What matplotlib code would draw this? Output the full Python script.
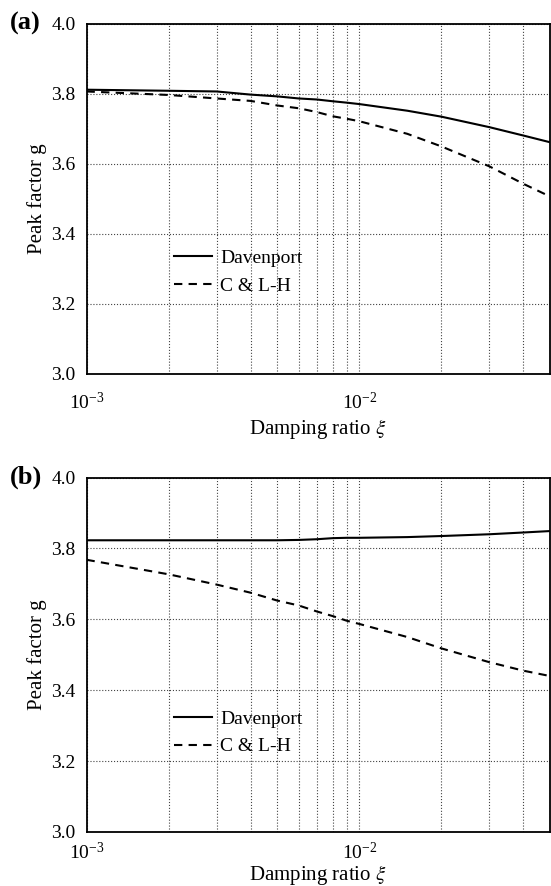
import matplotlib
matplotlib.use("Agg")
import matplotlib.pyplot as plt
from matplotlib.ticker import LogLocator, FixedLocator

plt.rcParams['font.family'] = ['Liberation Serif', 'DejaVu Serif']
plt.rcParams['mathtext.fontset'] = 'stix'

# damping ratio samples
xi = [0.001, 0.002, 0.003, 0.004, 0.005, 0.006, 0.007, 0.008, 0.009, 0.01,
      0.015, 0.02, 0.03, 0.04, 0.05]

# panel (a)
dav_a = [3.812, 3.809, 3.807, 3.798, 3.793, 3.787, 3.784, 3.779, 3.775, 3.771,
         3.752, 3.735, 3.705, 3.681, 3.662]
cl_a = [3.807, 3.797, 3.787, 3.780, 3.767, 3.759, 3.748, 3.736, 3.729, 3.722,
        3.686, 3.650, 3.593, 3.543, 3.507]

# panel (b)
dav_b = [3.823, 3.823, 3.823, 3.823, 3.823, 3.824, 3.826, 3.829, 3.830, 3.830,
         3.832, 3.835, 3.840, 3.845, 3.849]
cl_b = [3.768, 3.727, 3.698, 3.675, 3.653, 3.639, 3.622, 3.609, 3.596, 3.587,
        3.550, 3.518, 3.479, 3.455, 3.440]

yticks = [3.0, 3.2, 3.4, 3.6, 3.8, 4.0]

fig = plt.figure(figsize=(5.51, 8.86), dpi=100)
ax_a = fig.add_axes([0.157, 0.578, 0.841, 0.395])
ax_b = fig.add_axes([0.157, 0.061, 0.841, 0.400])

# axes, legend y anchor, x tick pad, x label pad
panels = [(ax_a, dav_a, cl_a, '(a)', 0.405, 13, 3),
          (ax_b, dav_b, cl_b, '(b)', 0.392, 7, 0)]
for ax, dav, cl, tag, leg_y, tpad, xpad in panels:
    ax.plot(xi, dav, color='black', lw=1.5, ls='-', label='Davenport')
    ax.plot(xi, cl, color='black', lw=1.5, ls=(0, (4, 3)), label='C & L-H')
    ax.set_xscale('log')
    ax.set_xlim(1e-3, 5e-2)
    ax.set_ylim(3.0, 4.0)
    ax.yaxis.set_major_locator(FixedLocator(yticks))
    ax.set_yticklabels([f"{v:.1f}" for v in yticks])
    ax.xaxis.set_major_locator(LogLocator(base=10, numticks=10))
    ax.xaxis.set_minor_locator(LogLocator(base=10, subs=range(2, 10), numticks=20))
    ax.grid(True, which='both', axis='x', ls=':', color='#444444', lw=0.8)
    ax.grid(True, which='major', axis='y', ls=':', color='#444444', lw=0.8)
    ax.tick_params(which='both', direction='in', length=0, labelsize=14)
    ax.tick_params(axis='y', pad=8)
    ax.tick_params(axis='x', pad=tpad)
    for s in ax.spines.values():
        s.set_linewidth(1.3)
    ax.set_xlabel(r'Damping ratio $\xi$', fontsize=15, labelpad=xpad)
    ax.set_ylabel('Peak factor g', fontsize=15, labelpad=3)
    ax.legend(loc='upper left', bbox_to_anchor=(0.15, leg_y), frameon=False,
              fontsize=14, handlelength=2.0, handletextpad=0.4, labelspacing=0.5)
    ax.text(-0.165, 1.0, tag, transform=ax.transAxes, fontsize=19,
            fontweight='bold', ha='left', va='center')

fig.savefig('out.png', dpi=100)
